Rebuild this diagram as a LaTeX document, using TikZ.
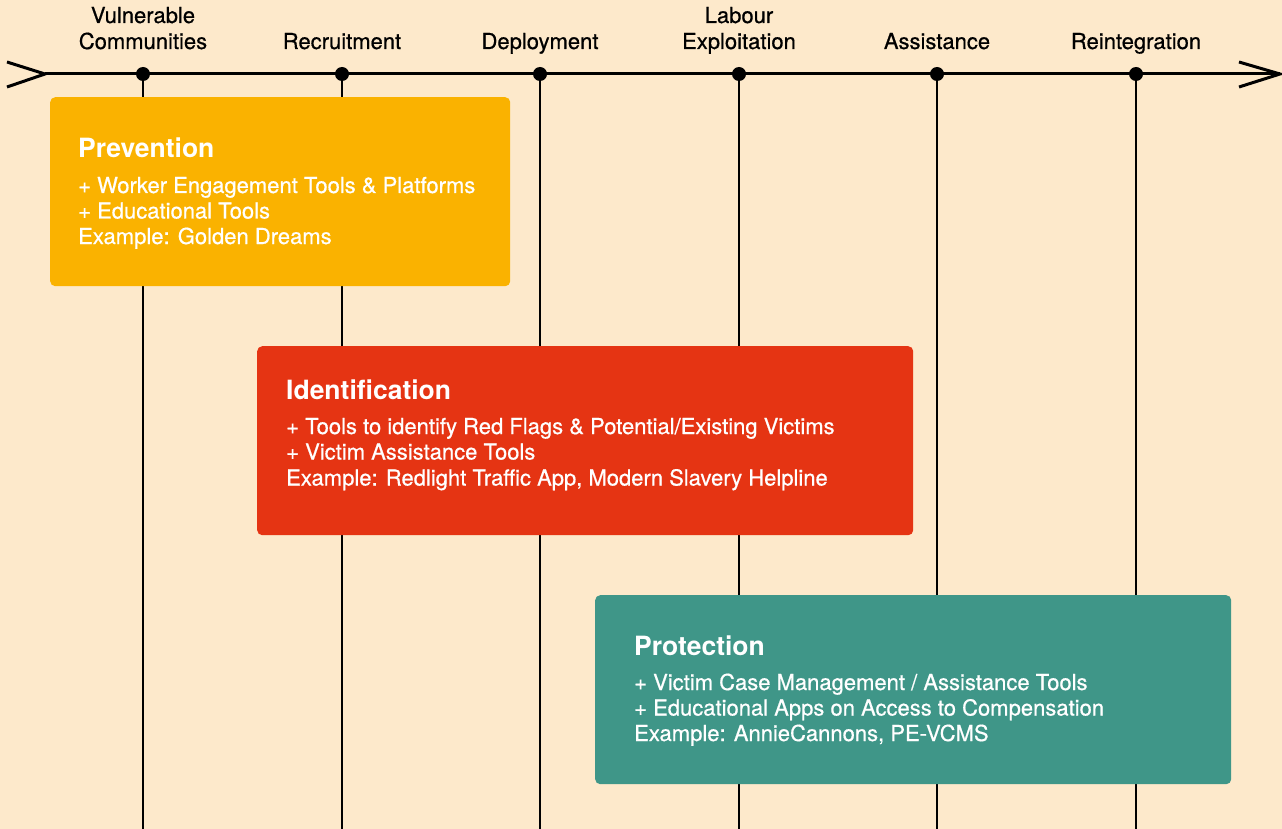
\documentclass[tikz,border=0pt]{standalone}
\usepackage{fontspec}
\setmainfont{TeX Gyre Heros}
\newfontfamily\medfont[FakeBold=0.6]{TeX Gyre Heros}
\definecolor{bgc}{HTML}{FDE9CB}
\definecolor{prevc}{HTML}{FAB200}
\definecolor{identc}{HTML}{E53413}
\definecolor{protc}{HTML}{3F9688}
\begin{document}
\begin{tikzpicture}[x=1pt,y=-1pt,
  axis/.style={line width=3pt,black},
  vline/.style={line width=2.6pt,black},
  dot/.style={circle,fill=black,inner sep=0pt,minimum size=14pt},
  lbl/.style={font=\medfont\fontsize{22}{26}\selectfont,inner sep=0pt,text=black},
  box/.style={rectangle,rounded corners=5pt,draw=none,inner sep=0pt,anchor=north west},
  boxtitle/.style={font=\bfseries\fontsize{26.5}{30}\selectfont,text=white,inner sep=0pt,anchor=base west},
  boxbody/.style={font=\medfont\fontsize{22}{26}\selectfont,text=white,inner sep=0pt,anchor=base west}]
\useasboundingbox (0,0) rectangle (1282,829);
\fill[bgc] (0,0) rectangle (1282,829);
% axis
\coordinate (tail) at (45,74);
\coordinate (tailT) at (7,62);
\coordinate (tailB) at (7,87);
\coordinate (head) at (1280,74);
\coordinate (headT) at (1239,62);
\coordinate (headB) at (1239,87);
\draw[axis] (tail) -- (head);
\draw[axis,line join=miter] (tailT) -- (tail) -- (tailB);
\draw[axis,line join=miter] (headT) -- (head) -- (headB);
% stages
\foreach \i/\x in {1/143,2/342,3/540,4/739,5/937,6/1136}{
  \node[dot] (s\i) at (\x,74) {};
  \coordinate (b\i) at (\x,829);
  \draw[vline] (s\i.center) -- (b\i);
}
\node[lbl,anchor=base] (l1a) at (143,23) {Vulnerable};
\node[lbl,anchor=base] (l1b) at (143,49) {Communities};
\node[lbl,anchor=base] (l2) at (342,49) {Recruitment};
\node[lbl,anchor=base] (l3) at (540,49) {Deployment};
\node[lbl,anchor=base] (l4a) at (739,23) {Labour};
\node[lbl,anchor=base] (l4b) at (739,49) {Exploitation};
\node[lbl,anchor=base] (l5) at (937,49) {Assistance};
\node[lbl,anchor=base] (l6) at (1136,49) {Reintegration};
% boxes
\node[box,fill=prevc,minimum width=460pt,minimum height=189pt] (prev) at (50,97) {};
\node[boxtitle] (prevT) at (78,158) {Prevention};
\node[boxbody] (prevB1) at (78,193) {+ Worker Engagement Tools \& Platforms};
\node[boxbody] (prevB2) at (78,218.5) {+ Educational Tools};
\node[boxbody] (prevB3) at (78,244) {Example: Golden Dreams};
\node[box,fill=identc,minimum width=656pt,minimum height=189pt] (ident) at (257,346) {};
\node[boxtitle] (identT) at (286,399) {Identification};
\node[boxbody] (identB1) at (286,434) {+ Tools to identify Red Flags \& Potential/Existing Victims};
\node[boxbody] (identB2) at (286,459.5) {+ Victim Assistance Tools};
\node[boxbody] (identB3) at (286,485.5) {Example: Redlight Traffic App, Modern Slavery Helpline};
\node[box,fill=protc,minimum width=636pt,minimum height=189pt] (prot) at (595,595) {};
\node[boxtitle] (protT) at (634,655) {Protection};
\node[boxbody] (protB1) at (634,690) {+ Victim Case Management / Assistance Tools};
\node[boxbody] (protB2) at (634,715.5) {+ Educational Apps on Access to Compensation};
\node[boxbody] (protB3) at (634,741) {Example: AnnieCannons, PE-VCMS};
\end{tikzpicture}
\end{document}
